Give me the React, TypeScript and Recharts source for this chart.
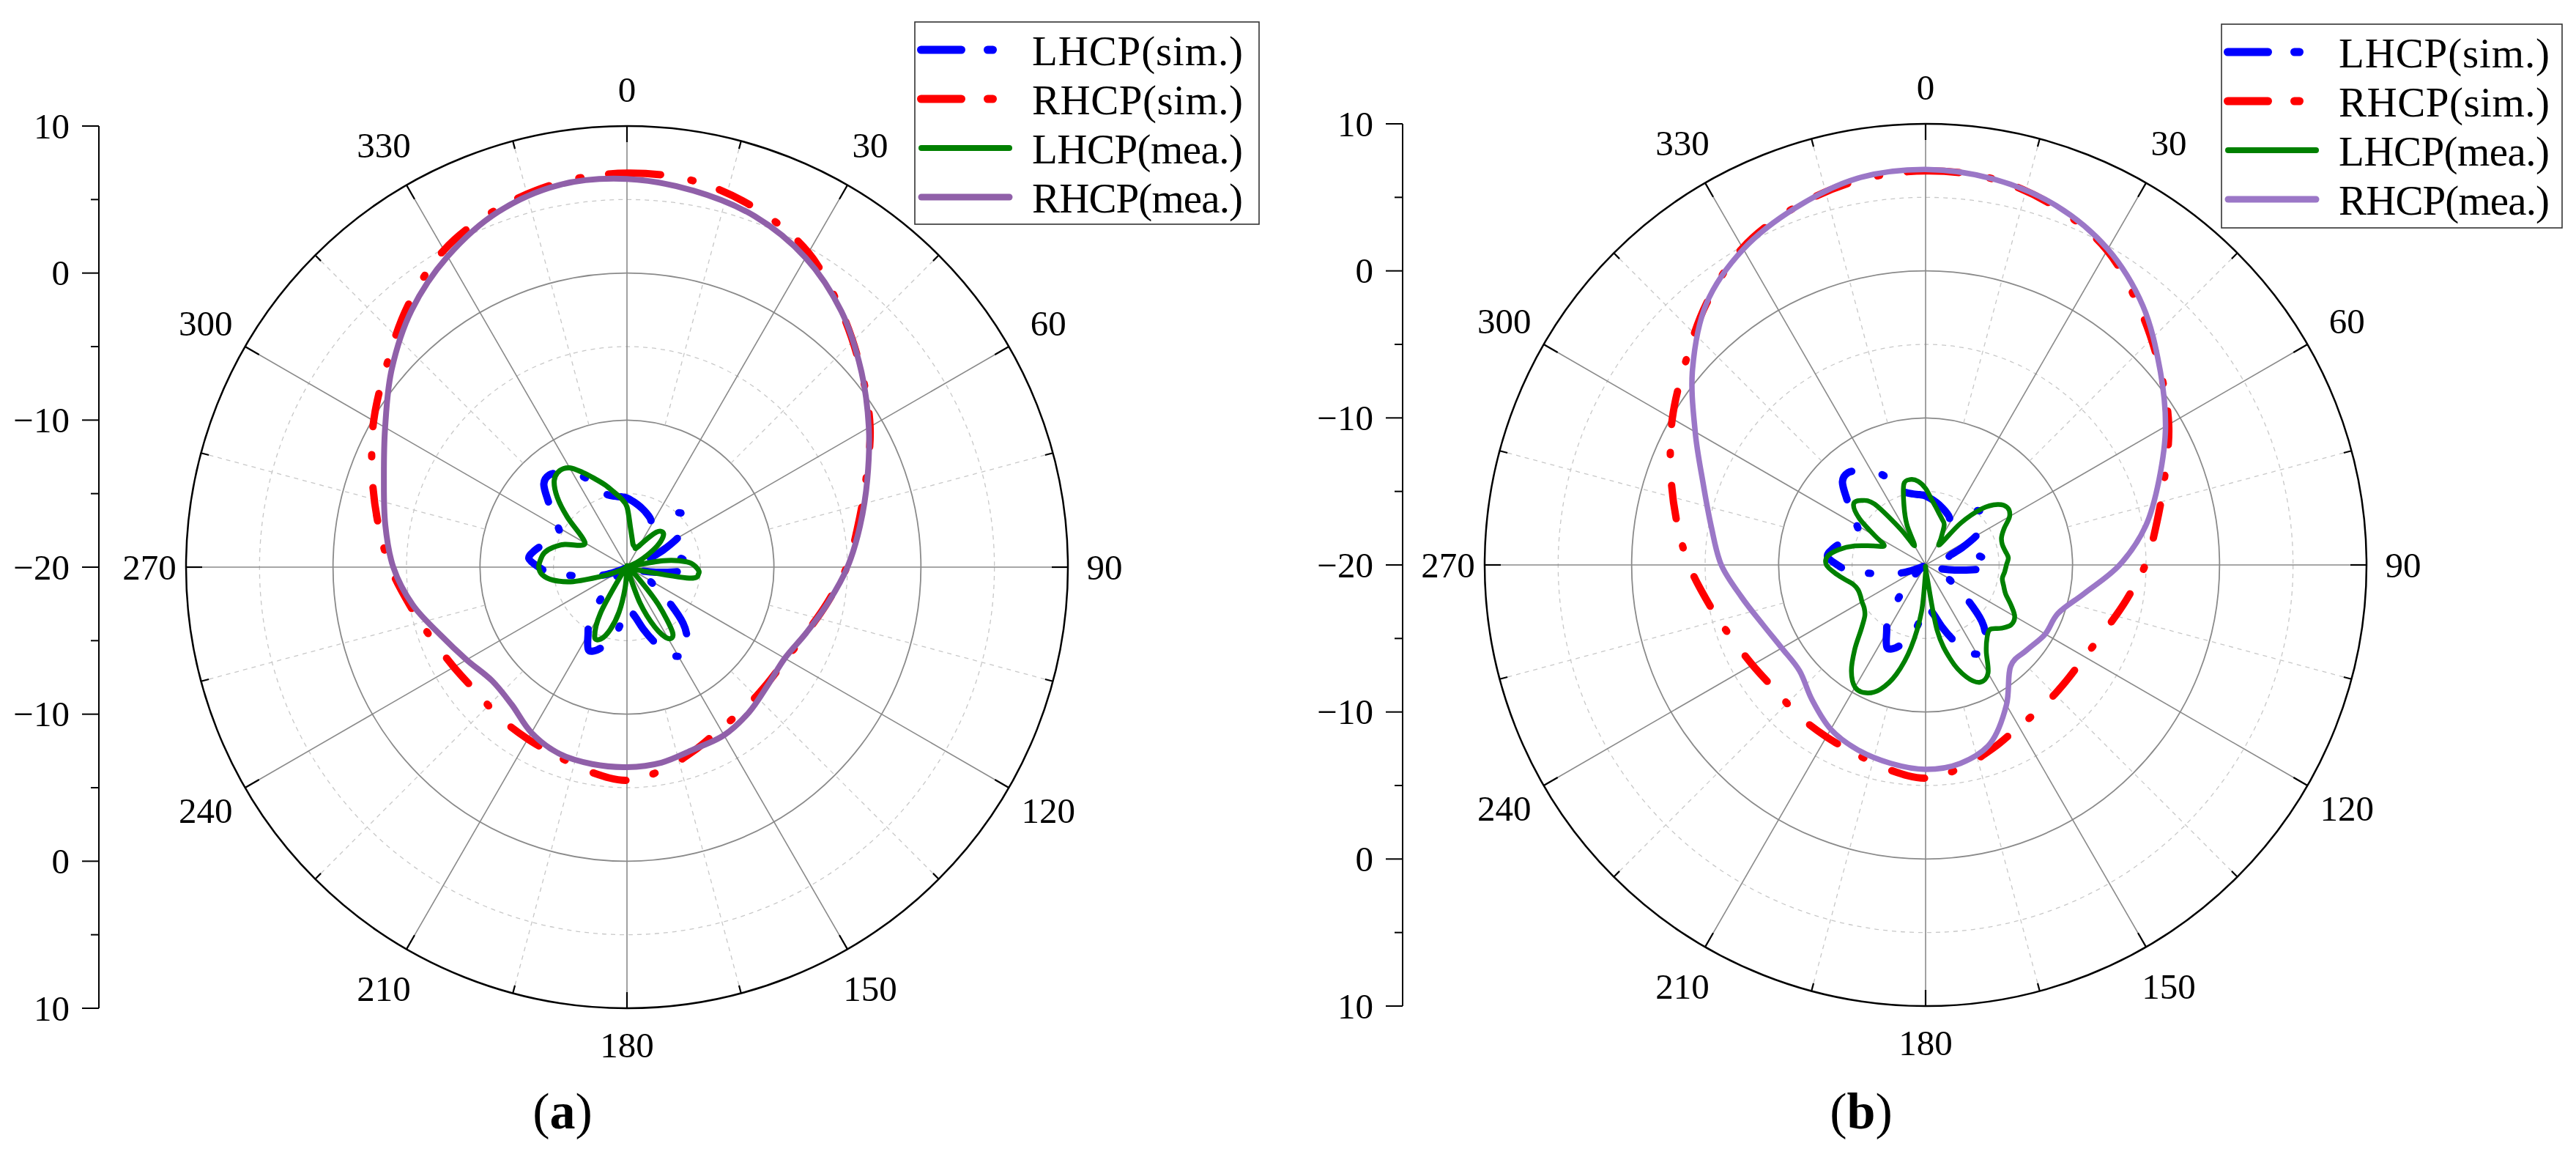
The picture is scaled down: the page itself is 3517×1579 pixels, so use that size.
import React from 'react';
import {
  RadarChart,
  Radar,
  PolarGrid,
  PolarAngleAxis,
  PolarRadiusAxis,
  Legend,
  Customized,
  LineChart,
  YAxis,
} from 'recharts';

// angle categories: every 5 degrees, clockwise from the top
const ANGLES = Array.from({ length: 72 }, (_, i) => i * 5);
const LABEL_ANGLES = [0, 30, 60, 90, 120, 150, 180, 210, 240, 270, 300, 330];
const MINOR_ANGLES = [15, 45, 75, 105, 135, 165, 195, 225, 255, 285, 315, 345];
const RING_SOLID = [-10, 0];
const RING_DOTTED = [-15, -5, 5];
const AXIS_TICKS = [-30, -25, -20, -15, -10, -5, 0, 5, 10, 15, 20, 25, 30];

// simulated patterns (same in both panels)
// LHCP sim, every 5 deg
const LHCP_SIM = [
  -15.3, -15.5, -15.7, -15.9, -16.1, -16.3, -16.5, -16.0, -15.3, -14.8, -15.0, -15.3,
  -16.0, -17.3, -18.3, -17.5, -16.4, -15.9, -15.6, -16.5, -18.0, -19.0, -19.5, -19.2,
  -18.3, -17.6, -16.2, -14.6, -13.6, -12.8, -13.0, -13.5, -14.6, -15.6, -16.5, -17.0,
  -17.3, -16.4, -15.3, -14.6, -14.0, -13.8, -14.7, -15.6, -17.3, -18.5, -19.3, -19.7,
  -19.8, -19.5, -18.6, -17.6, -16.6, -14.9, -14.0, -13.3, -13.6, -14.1, -14.6, -15.0,
  -14.6, -13.9, -13.0, -12.0, -11.8, -12.2, -12.7, -13.3, -14.5, -14.9, -15.1, -15.2,
];
// RHCP sim, every 10 deg
const RHCP_SIM = [
  6.8, 6.65, 5.9, 4.7, 2.7, 0.8, -0.9, -2.7, -4.05, -5.05, -6.15, -7.0,
  -7.5, -7.6, -7.5, -7.3, -6.7, -6.0, -5.5, -5.85, -6.3, -6.5, -6.6, -6.7,
  -6.4, -5.85, -5.0, -3.9, -2.8, -1.55, -0.1, 1.35, 3.2, 4.9, 5.9, 6.55,
];

// panel (a) measured
const A_LHCP_MEA = [
  -15.9, -17.3, -18.0, -18.4, -18.5, -18.6, -18.3, -17.7, -16.9, -16.6, -16.8, -17.5,
  -18.5, -19.3, -20, -19.8, -17.5, -15.9, -15.3, -15.1, -15.7, -19.2, -20, -20,
  -20, -20, -19.6, -18.8, -16.7, -14.6, -14.4, -15.5, -17.4, -19.8, -20, -20,
  -20, -18.6, -16.9, -15.6, -14.8, -14.8, -16.4, -19.2, -20, -20, -20, -20,
  -19.8, -19.3, -18.2, -16.2, -14.9, -14.2, -14.0, -14.1, -14.3, -14.8, -15.5, -16.5,
  -16.7, -16.1, -14.7, -13.3, -12.3, -12.0, -12.2, -12.9, -13.6, -14.2, -14.8, -15.3,
];
const A_RHCP_MEA = [
  6.4, 6.0, 5.4, 4.3, 2.7, 0.8, -1.0, -2.6, -3.9, -5.0, -6.1, -7.0,
  -7.6, -7.5, -7.1, -6.8, -6.8, -6.5, -6.4, -6.4, -6.5, -7.0, -7.8, -8.0,
  -7.4, -6.5, -5.2, -4.1, -3.3, -2.4, -1.0, 0.9, 2.8, 4.4, 5.7, 6.4,
];

// panel (b) measured
const B_LHCP_MEA = [
  -14.8, -15.5, -16.0, -16.4, -16.7, -17.0, -17.9, -18.3, -16.3, -14.6, -13.6, -13.2,
  -13.4, -14.1, -14.5, -14.6, -14.5, -14.35, -14.5, -14.6, -14.7, -14.5, -14.2, -13.6,
  -13.0, -12.9, -13.3, -13.8, -13.5, -12.8, -11.5, -11.2, -11.9, -13.3, -15.5, -19.5,
  -19.5, -16.8, -14.3, -12.3, -11.0, -10.4, -10.4, -11.2, -12.5, -13.8, -14.6, -14.9,
  -15.0, -15.1, -15.1, -14.9, -14.4, -13.8, -13.25, -13.3, -14.0, -15.0, -16.2, -16.9,
  -16.0, -14.5, -13.6, -13.8, -14.6, -17.0, -18.5, -17.0, -15.7, -14.3, -14.1, -14.3,
];
const B_RHCP_MEA = [
  6.9, 6.65, 6.0, 4.8, 3.0, 0.8, -1.15, -3.1, -4.8, -6.8, -9.0, -10.4,
  -10.6, -11.0, -11.0, -9.0, -7.1, -6.3, -6.1, -6.3, -6.6, -7.1, -8.0, -8.8,
  -8.7, -8.2, -7.3, -6.1, -5.2, -3.9, -1.9, 0.7, 3.2, 4.8, 5.85, 6.7,
];

const LEGEND_NAMES = ['LHCP(sim.)', 'RHCP(sim.)', 'LHCP(mea.)', 'RHCP(mea.)'];

const MIN_DB = -20;
const MAX_DB = 10;
const R = 602;
const FONT = '"Liberation Serif", "Times New Roman", serif';
const SIM_DASH = '46 42 3 38';

const rScale = (v: number) => ((v - MIN_DB) / (MAX_DB - MIN_DB)) * R;

function buildRows(lhcpMea: number[], rhcpMea: number[]) {
  return ANGLES.map((angle, i) => ({
    angle,
    lhcpSim: LHCP_SIM[i],
    rhcpSim: i % 2 === 0 ? RHCP_SIM[i / 2] : null,
    lhcpMea: lhcpMea[i],
    rhcpMea: i % 2 === 0 ? rhcpMea[i / 2] : null,
  }));
}

// closed catmull-rom through the points the radar computed
function closedPath(pts: { x: number; y: number }[]) {
  const n = pts.length;
  let d = `M${pts[0].x},${pts[0].y}`;
  for (let i = 0; i < n; i++) {
    const p0 = pts[(i + n - 1) % n];
    const p1 = pts[i];
    const p2 = pts[(i + 1) % n];
    const p3 = pts[(i + 2) % n];
    const c1x = p1.x + (p2.x - p0.x) / 6;
    const c1y = p1.y + (p2.y - p0.y) / 6;
    const c2x = p2.x - (p3.x - p1.x) / 6;
    const c2y = p2.y - (p3.y - p1.y) / 6;
    d += ` C${c1x},${c1y} ${c2x},${c2y} ${p2.x},${p2.y}`;
  }
  return d + ' Z';
}

function smoothShape(color: string, width: number, dash?: string) {
  return (props: any) => {
    const pts = (props.points || []).filter(
      (p: any) => p.value != null && Number.isFinite(p.x) && Number.isFinite(p.y)
    );
    if (pts.length < 3) return <g />;
    return (
      <path
        d={closedPath(pts)}
        fill="none"
        stroke={color}
        strokeWidth={width}
        strokeDasharray={dash}
        strokeLinecap="round"
        strokeLinejoin="round"
      />
    );
  };
}

function angleTick(cx: number, cy: number) {
  return (props: any) => {
    const { x, y, payload } = props;
    const deg = Number(payload.value);
    if (deg % 30 !== 0) return <g />;
    const dx = x - cx;
    const dy = y - cy;
    const len = Math.hypot(dx, dy) || 1;
    const ux = dx / len;
    const uy = dy / len;
    const off = R + 50 + 14 * Math.abs(2 * ux * uy);
    return (
      <text
        x={cx + ux * off}
        y={cy + uy * off}
        textAnchor="middle"
        dominantBaseline="central"
        fontSize={49}
        fontFamily={FONT}
        fill="#000"
      >
        {deg}
      </text>
    );
  };
}

const axisTick = (props: any) => {
  const { x, y, payload } = props;
  const v = Number(payload.value);
  const major = v % 10 === 0;
  const lab = Math.abs(v) - 20;
  return (
    <g>
      <line x1={x - (major ? 23 : 11)} x2={x} y1={y} y2={y} stroke="#000" strokeWidth={2} />
      {major && (
        <text
          x={x - 40}
          y={y}
          textAnchor="end"
          dominantBaseline="central"
          fontSize={49}
          fontFamily={FONT}
          fill="#000"
        >
          {lab < 0 ? `\u2212${-lab}` : lab}
        </text>
      )}
    </g>
  );
};

function Decorations({ cx, cy, tag }: { cx: number; cy: number; tag: string }) {
  const rIn = rScale(-10);
  const pol = (deg: number, r: number) => {
    const a = (deg * Math.PI) / 180;
    return [cx + Math.sin(a) * r, cy - Math.cos(a) * r];
  };
  return (
    <g>
      {MINOR_ANGLES.map((t) => {
        const [x1, y1] = pol(t, rIn);
        const [x2, y2] = pol(t, R);
        return (
          <line key={`m${t}`} x1={x1} y1={y1} x2={x2} y2={y2}
            stroke="#c8c8c8" strokeWidth={1.3} strokeDasharray="6 6" />
        );
      })}
      {[...LABEL_ANGLES, ...MINOR_ANGLES].map((t) => {
        const len = t % 30 === 0 ? 22 : 11;
        const [x1, y1] = pol(t, R - len);
        const [x2, y2] = pol(t, R);
        return <line key={`t${t}`} x1={x1} y1={y1} x2={x2} y2={y2} stroke="#000" strokeWidth={2.2} />;
      })}
      <text x={cx - 88} y={1540} textAnchor="middle" fontSize={70} fontFamily={FONT} fill="#000">
        (<tspan fontWeight="bold">{tag}</tspan>)
      </text>
    </g>
  );
}

function LegendBox({ w, h, purple }: { w: number; h: number; purple: string }) {
  const rows = [
    { color: '#0000ff', dash: true, width: 11 },
    { color: '#ff0000', dash: true, width: 11 },
    { color: '#008000', dash: false, width: 8 },
    { color: purple, dash: false, width: 9 },
  ];
  return (
    <svg width={w} height={h} style={{ display: 'block', overflow: 'visible' }}>
      <rect x={1} y={1} width={w - 2} height={h - 2} fill="#fff" stroke="#333" strokeWidth={1.6} />
      {rows.map((r, i) => {
        const y = 39 + i * 67;
        return (
          <g key={i}>
            {r.dash ? (
              <line x1={9.5} x2={134} y1={y} y2={y} stroke={r.color} strokeWidth={r.width}
                strokeLinecap="round" strokeDasharray="55 36 7 200" />
            ) : (
              <line x1={10} x2={130} y1={y} y2={y} stroke={r.color} strokeWidth={r.width}
                strokeLinecap="round" />
            )}
            <text x={161} y={y + 21} fontSize={57} fontFamily={FONT} fill="#000"
              textLength={288} lengthAdjust="spacing">
              {LEGEND_NAMES[i]}
            </text>
          </g>
        );
      })}
    </svg>
  );
}

function DbAxis({ left, cy }: { left: number; cy: number }) {
  return (
    <div style={{ position: 'absolute', left, top: cy - R - 30 }}>
      <LineChart width={200} height={2 * R + 60} data={[]} margin={{ top: 30, right: 0, bottom: 30, left: 0 }}>
        <YAxis
          type="number"
          domain={[-30, 30]}
          ticks={AXIS_TICKS}
          allowDataOverflow
          interval={0}
          width={135}
          tickSize={0}
          tickMargin={0}
          tickLine={false}
          axisLine={{ stroke: '#000', strokeWidth: 2 }}
          tick={axisTick}
        />
      </LineChart>
    </div>
  );
}

type PanelProps = {
  tag: string;
  left: number;
  width: number;
  cx: number;
  cy: number;
  purple: string;
  lhcpMea: number[];
  rhcpMea: number[];
  legend: { left: number; top: number; w: number; h: number };
  greenW: number;
  purpleW: number;
};

function Panel(p: PanelProps) {
  const rows = buildRows(p.lhcpMea, p.rhcpMea);
  return (
    <div style={{ position: 'absolute', left: p.left, top: 0 }}>
      <RadarChart
        width={p.width}
        height={1579}
        data={rows}
        cx={p.cx}
        cy={p.cy}
        innerRadius={0}
        outerRadius={R}
        startAngle={90}
        endAngle={-270}
        margin={{ top: 0, right: 0, bottom: 0, left: 0 }}
      >
        <PolarGrid gridType="circle" radialLines={false} polarRadius={RING_DOTTED.map(rScale)}
          stroke="#c8c8c8" strokeWidth={1.3} strokeDasharray="6 6" />
        <PolarGrid gridType="circle" radialLines={false} polarRadius={RING_SOLID.map(rScale)}
          stroke="#8a8a8a" strokeWidth={1.8} />
        <PolarGrid gridType="circle" radialLines polarRadius={[]} polarAngles={LABEL_ANGLES.map((t) => 90 - t)}
          stroke="#8a8a8a" strokeWidth={1.6} />
        <Customized component={<Decorations cx={p.cx} cy={p.cy} tag={p.tag} />} />
        <PolarAngleAxis
          dataKey="angle"
          tick={angleTick(p.cx, p.cy)}
          tickLine={false}
          axisLineType="circle"
          axisLine={{ stroke: '#000', strokeWidth: 2.5 }}
        />
        <PolarRadiusAxis type="number" domain={[MIN_DB, MAX_DB]} allowDataOverflow tick={false} axisLine={false} />
        <Radar name="LHCP(sim.)" dataKey="lhcpSim" stroke="#0000ff" fill="none" isAnimationActive={false}
          shape={smoothShape('#0000ff', 10, SIM_DASH)} />
        <Radar name="RHCP(sim.)" dataKey="rhcpSim" stroke="#ff0000" fill="none" isAnimationActive={false}
          shape={smoothShape('#ff0000', 10, SIM_DASH)} />
        <Radar name="LHCP(mea.)" dataKey="lhcpMea" stroke="#008000" fill="none" isAnimationActive={false}
          shape={smoothShape('#008000', p.greenW)} />
        <Radar name="RHCP(mea.)" dataKey="rhcpMea" stroke={p.purple} fill="none" isAnimationActive={false}
          shape={smoothShape(p.purple, p.purpleW)} />
        <Legend
          verticalAlign="top"
          align="left"
          width={p.legend.w}
          height={p.legend.h}
          wrapperStyle={{ left: p.legend.left, top: p.legend.top, width: p.legend.w, height: p.legend.h }}
          content={() => <LegendBox w={p.legend.w} h={p.legend.h} purple={p.purple} />}
        />
      </RadarChart>
    </div>
  );
}

export default function App() {
  return (
    <div
      style={{
        position: 'absolute',
        left: 0,
        top: 0,
        width: 3517,
        height: 1579,
        background: '#fff',
        overflow: 'hidden',
        fontFamily: FONT,
      }}
    >
      <DbAxis left={0} cy={774} />
      <DbAxis left={1780} cy={771} />
      <Panel
        tag="a"
        left={0}
        width={1758}
        cx={856}
        cy={774}
        purple="#9060a9"
        lhcpMea={A_LHCP_MEA}
        rhcpMea={A_RHCP_MEA}
        legend={{ left: 1248, top: 29, w: 472, h: 278 }}
        greenW={7}
        purpleW={8}
      />
      <Panel
        tag="b"
        left={1758}
        width={1759}
        cx={871}
        cy={771}
        purple="#9b77c7"
        lhcpMea={B_LHCP_MEA}
        rhcpMea={B_RHCP_MEA}
        legend={{ left: 1274, top: 32, w: 467, h: 280 }}
        greenW={6.5}
        purpleW={7.5}
      />
    </div>
  );
}
